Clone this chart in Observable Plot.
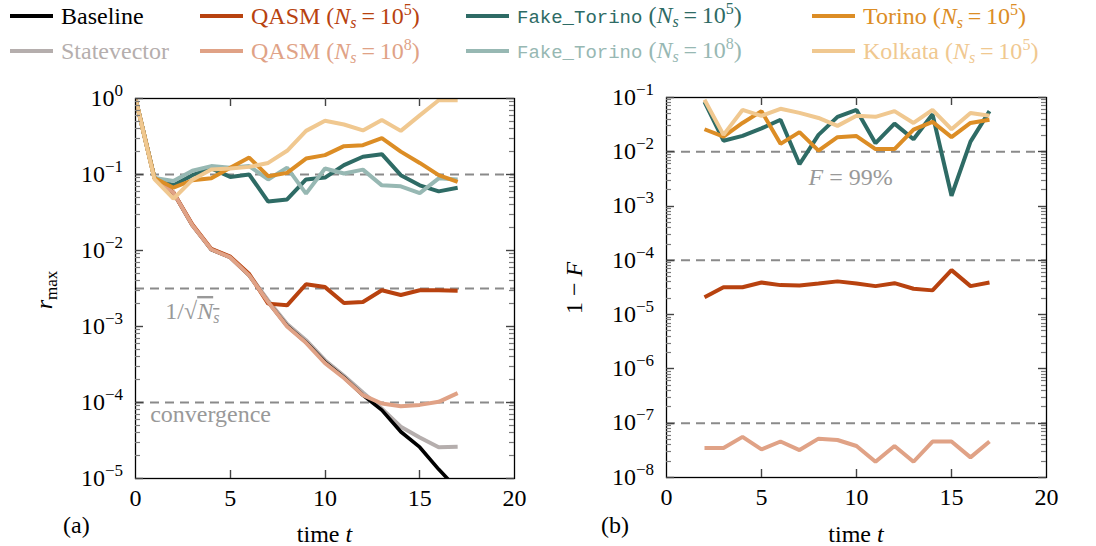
<!DOCTYPE html>
<html><head><meta charset="utf-8">
<script src="https://cdn.jsdelivr.net/npm/d3@7"></script>
<script src="https://cdn.jsdelivr.net/npm/@observablehq/plot@0.6"></script>
<style>
body{margin:0;background:#fff;}
#wrap{position:relative;width:1096px;height:546px;overflow:hidden;font-family:'Liberation Serif',serif;}
#legend{position:absolute;left:0;top:0;width:1096px;height:80px;}
.item{position:absolute;display:flex;align-items:center;white-space:nowrap;height:28px;}
.sw{display:inline-block;height:4px;width:43px;margin-right:8px;flex:none;}
.lt{white-space:nowrap;font-size:24px;line-height:28px;font-family:'Liberation Serif',serif;}
.mono{font-family:'Liberation Mono',monospace;font-size:19px;}
.lt sub{font-size:16px;vertical-align:-4px;line-height:0;font-style:italic;}
.lt sup{font-size:16px;vertical-align:9px;line-height:0;}
#pa{position:absolute;left:0;top:80px;}
#pb{position:absolute;left:548px;top:80px;}
</style></head>
<body>
<div id="wrap">
  <div id="legend"></div>
  <div id="pa"></div>
  <div id="pb"></div>
</div>
<script>
// ---------- data ----------
const tLeft = [0,1,2,3,4,5,6,7,8,9,10,11,12,13,14,15,16,17];
const tRight = [2,3,4,5,6,7,8,9,10,11,12,13,14,15,16,17];

const leftBaseline    = [1,0.09,0.058,0.0215,0.0103,0.0081,0.0047,0.0021,0.00102,0.00062,0.00034,0.000214,0.000125,0.0000794,0.0000412,0.0000258,0.0000132,0.0000072];
const leftStatevector = [1,0.09,0.058,0.0215,0.0104,0.0082,0.0048,0.0022,0.00108,0.00066,0.00036,0.000225,0.000135,0.0000826,0.000048,0.0000347,0.0000258,0.0000262];
const leftQasm5       = [1,0.09,0.058,0.022,0.0105,0.0083,0.0049,0.0020,0.0019,0.0036,0.0033,0.00204,0.0021,0.0030,0.0026,0.0030,0.0030,0.00295];
const leftQasm8       = [1,0.09,0.058,0.0215,0.0103,0.0081,0.0047,0.0021,0.00100,0.00061,0.00033,0.00021,0.000125,0.000097,0.000089,0.000093,0.000102,0.000133];
const leftFake5       = [1,0.09,0.072,0.098,0.12,0.093,0.10,0.044,0.047,0.086,0.091,0.133,0.171,0.185,0.098,0.072,0.060,0.067];
const leftFake8       = [1,0.09,0.082,0.112,0.129,0.123,0.129,0.086,0.123,0.056,0.12,0.103,0.116,0.072,0.07,0.057,0.089,0.086];
const leftTorino      = [1,0.09,0.067,0.084,0.089,0.123,0.167,0.095,0.105,0.162,0.18,0.236,0.243,0.30,0.20,0.142,0.098,0.08];
const leftKolkata     = [1,0.087,0.048,0.085,0.116,0.12,0.126,0.142,0.205,0.375,0.51,0.455,0.38,0.52,0.375,0.6,0.95,0.95];

const rightQasm5   = [2.1e-5,3.2e-5,3.2e-5,3.9e-5,3.5e-5,3.45e-5,3.75e-5,4.1e-5,3.75e-5,3.35e-5,3.8e-5,3.0e-5,2.8e-5,6.6e-5,3.35e-5,3.9e-5];
const rightQasm8   = [3.5e-8,3.5e-8,5.6e-8,3.3e-8,4.6e-8,3.2e-8,5.2e-8,4.9e-8,3.8e-8,1.95e-8,3.8e-8,1.95e-8,4.6e-8,4.6e-8,2.35e-8,4.6e-8];
const rightFake5   = [0.083,0.016,0.0196,0.027,0.039,0.0059,0.0205,0.044,0.059,0.0144,0.033,0.017,0.049,0.00155,0.0154,0.056];
const rightTorino  = [0.026,0.019,0.034,0.056,0.014,0.023,0.0105,0.0186,0.0195,0.0112,0.0112,0.0257,0.0355,0.0186,0.034,0.039];
const rightKolkata = [0.091,0.0205,0.059,0.046,0.062,0.052,0.042,0.030,0.046,0.044,0.056,0.034,0.059,0.026,0.052,0.046];

const xTicks = [0,5,10,15,20];
const xInnerTicks = [5,10,15];
const leftMajors  = [1e-5,1e-4,1e-3,1e-2,1e-1,1];
const rightMajors = [1e-8,1e-7,1e-6,1e-5,1e-4,1e-3,1e-2,1e-1];
const leftRefs  = [0.1, 0.0031623, 1e-4];
const rightRefs = [1e-2, 1e-4, 1e-7];

const legendNames = ["Baseline","Statevector","QASM","QASM","Fake_Torino","Fake_Torino","Torino","Kolkata"];
const legendShots = [null,null,5,8,5,8,5,5];

// ---------- styles ----------
const colors = {
  baseline:"#000000", statevector:"#b5aead", qasm5:"#b8420f", qasm8:"#e0a286",
  fake5:"#2e6b65", fake8:"#97b8b3", torino:"#dc8d25", kolkata:"#f0c890"
};
const legendColors = [colors.baseline,colors.statevector,colors.qasm5,colors.qasm8,colors.fake5,colors.fake8,colors.torino,colors.kolkata];
const legendLineX = [10,200,466,812];
const legendRowY  = [16,51];

// ---------- legend ----------
const legend = document.getElementById("legend");
legendNames.forEach((name,i)=>{
  const col = Math.floor(i/2), row = i%2;
  const item = document.createElement("div");
  item.className = "item";
  item.style.left = legendLineX[col]+"px";
  item.style.top = (legendRowY[row]-14)+"px";
  const sw = document.createElement("span");
  sw.className = "sw";
  sw.style.background = legendColors[i];
  item.appendChild(sw);
  const tx = document.createElement("span");
  tx.className = "lt";
  tx.style.color = legendColors[i];
  const nm = name.startsWith("Fake") ? `<span class="mono">${name}</span>` : name;
  tx.innerHTML = legendShots[i]==null ? nm :
    `${nm} (<i>N</i><sub>s</sub>&#8201;=&#8201;10<sup>${legendShots[i]}</sup>)`;
  item.appendChild(tx);
  legend.appendChild(item);
});

// ---------- plots ----------
function minorsOf(majors){
  const out = [];
  for (let k=0;k<majors.length-1;k++) for (let m=2;m<=9;m++) out.push(majors[k]*m);
  return out;
}
function panel({series, t, domainY, refs, ml, mr, mt, mb}){
  const lines = series.map(s => Plot.lineY(s.v, {x: t, y: s.v, stroke: s.c, strokeWidth: s.w || 4, clip: true, strokeLinejoin:"miter", strokeLinecap:"butt"}));
  return Plot.plot({
    width: 548, height: 466,
    marginLeft: ml, marginRight: mr, marginTop: mt, marginBottom: mb,
    x: {domain: [0,20], label: null},
    y: {type: "log", domain: domainY, label: null},
    style: {fontFamily: "'Liberation Serif', serif", fontSize: "24px", color: "black", background: "transparent", overflow: "visible"},
    marks: [
      Plot.ruleY(refs, {stroke: "#8a8a8a", strokeWidth: 2, strokeDasharray: "9,6"}),
      ...lines,
      Plot.frame({stroke: "black", strokeWidth: 1.3}),
      Plot.axisY({anchor: "left", ticks: [], tickSize: 0, label: null}),
      Plot.axisX({anchor: "bottom", ticks: xTicks, tickSize: 0, tickPadding: 10, label: null})
    ]
  });
}
// inward ticks on all four sides + 10^k labels, placed through the plot's own scales
function addTicks(svg, majors){
  const sx = svg.scale("x"), sy = svg.scale("y");
  const minors = minorsOf(majors);
  const dom = sy.domain;
  const xa = sx.apply(0), xb = sx.apply(20);
  const yb = sy.apply(dom[0]), yt = sy.apply(dom[1]);
  const g = d3.select(svg).append("g").attr("fill","none").attr("stroke-linecap","butt");
  const seg = (x1,y1,x2,y2,c,w) => g.append("path").attr("d",`M${x1},${y1}L${x2},${y2}`).attr("stroke",c).attr("stroke-width",w);
  minors.forEach(v => { const y = Math.round(sy.apply(v))+0.5; seg(xa,y,xa+5,y,"#7a7a7a",1.2); seg(xb-5,y,xb,y,"#7a7a7a",1.2); });
  majors.forEach(v => { const y = Math.round(sy.apply(v))+0.5; seg(xa,y,xa+8,y,"#444",1.4); seg(xb-8,y,xb,y,"#444",1.4); });
  xInnerTicks.forEach(v => { const x = Math.round(sx.apply(v))+0.5; seg(x,yb,x,yb-8,"#444",1.4); seg(x,yt,x,yt+8,"#444",1.4); });
  const lg = d3.select(svg).append("g").attr("font-family","'Liberation Serif', serif").attr("font-size",24).attr("text-anchor","end").attr("fill","black");
  majors.forEach(v => {
    const tx = lg.append("text").attr("x", xa - 12).attr("y", sy.apply(v)).attr("dy","0.32em");
    tx.append("tspan").text("10");
    tx.append("tspan").attr("dy",-10).attr("font-size",17).text(String(Math.round(Math.log10(v))).replace("-","−"));
  });
}

const left = panel({
  t: tLeft, domainY: [1e-5,1], refs: leftRefs,
  ml: 135, mr: 34, mt: 18, mb: 68,
  series: [
    {v: leftStatevector, c: colors.statevector},
    {v: leftBaseline, c: colors.baseline, w: 3.6},
    {v: leftQasm5, c: colors.qasm5},
    {v: leftQasm8, c: colors.qasm8},
    {v: leftFake5, c: colors.fake5},
    {v: leftFake8, c: colors.fake8},
    {v: leftTorino, c: colors.torino},
    {v: leftKolkata, c: colors.kolkata}
  ]
});
const right = panel({
  t: tRight, domainY: [1e-8,1e-1], refs: rightRefs,
  ml: 118, mr: 50, mt: 17, mb: 69,
  series: [
    {v: rightQasm5, c: colors.qasm5},
    {v: rightQasm8, c: colors.qasm8},
    {v: rightFake5, c: colors.fake5},
    {v: rightTorino, c: colors.torino},
    {v: rightKolkata, c: colors.kolkata}
  ]
});
document.getElementById("pa").appendChild(left);
document.getElementById("pb").appendChild(right);
addTicks(left, leftMajors);
addTicks(right, rightMajors);

function annotate(svg, o){
  const g = d3.select(svg).append("g").attr("font-family","'Liberation Serif', serif").attr("font-size",24).attr("text-anchor","start");
  const sx = svg.scale("x"), sy = svg.scale("y");
  const yl = g.append("text").attr("transform",`translate(${o.ylx},${o.yly}) rotate(-90)`).attr("text-anchor","middle").attr("dy","0.3em");
  o.ylab(yl);
  const xl = g.append("text").attr("x", (sx.apply(0)+sx.apply(20))/2).attr("y", o.xty).attr("text-anchor","middle");
  xl.append("tspan").text("time ");
  xl.append("tspan").attr("font-style","italic").text("t");
  g.append("text").attr("x", o.px).attr("y", o.xty-9).attr("text-anchor","start").text(o.panel);
  o.extra(g, sx, sy);
}
annotate(left, {
  ylx: 45, yly: 210, xty: 462, px: 63, panel: "(a)",
  ylab: el => { el.append("tspan").attr("font-style","italic").text("r"); el.append("tspan").attr("font-size",17).attr("dy",5).text("max"); },
  extra: (g, sx, sy) => {
    const a = g.append("text").attr("x", sx.apply(1.6)).attr("y", sy.apply(leftRefs[1]) + 31).attr("fill","#999").attr("text-anchor","start");
    a.append("tspan").text("1/√");
    const ov = a.append("tspan").style("text-decoration","overline");
    ov.append("tspan").attr("font-style","italic").text("N");
    ov.append("tspan").attr("font-style","italic").attr("font-size",16).attr("dy",4).text("s");
    g.append("text").attr("x", sx.apply(0.8)).attr("y", sy.apply(leftRefs[2]) + 20).attr("fill","#999").attr("text-anchor","start").text("convergence");
  }
});
annotate(right, {
  ylx: 27, yly: 208, xty: 462, px: 53, panel: "(b)",
  ylab: el => { el.append("tspan").text("1 − "); el.append("tspan").attr("font-style","italic").text("F"); },
  extra: (g, sx, sy) => {
    const a = g.append("text").attr("x", sx.apply(7.5)).attr("y", sy.apply(rightRefs[0]) + 34).attr("fill","#999").attr("text-anchor","start");
    a.append("tspan").attr("font-style","italic").text("F");
    a.append("tspan").text(" = 99%");
  }
});
</script>
</body></html>
